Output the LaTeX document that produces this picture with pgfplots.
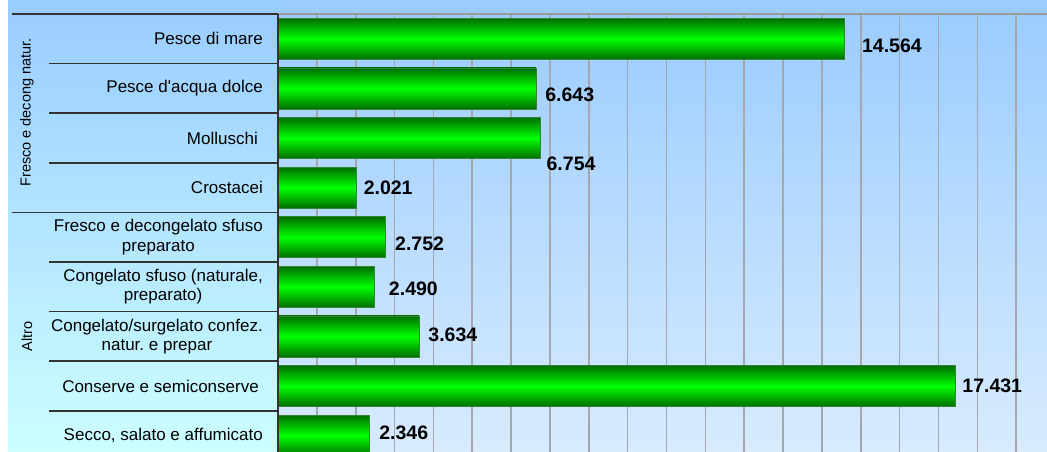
\documentclass[border=0pt]{standalone}
\usepackage{pgfplots}
\pgfplotsset{compat=1.18}
\usepackage{fontspec}
\setmainfont{Liberation Sans}
\frenchspacing
\definecolor{bgtop}{HTML}{99CCFF}
\definecolor{bgbot}{HTML}{D8EBFF}
\definecolor{lpbot}{HTML}{CCFFFF}
\definecolor{bardark}{HTML}{006E00}
\definecolor{barlight}{HTML}{00FF00}
\definecolor{gridc}{HTML}{A3A8AE}
\definecolor{linec}{HTML}{333333}
\definecolor{topline}{HTML}{9A9A9A}

\begin{document}
\begin{tikzpicture}[x=1pt,y=1pt]
\useasboundingbox (0,-452) rectangle (1047,0);
\fill[white] (0,-452) rectangle (1047,0);
\shade[top color=bgtop, bottom color=bgbot] (8,-452) rectangle (1047,0);
\shade[top color=bgtop, bottom color=lpbot] (8,-452) rectangle (278,0);
\begin{axis}[
  at={(278pt,-14pt)}, anchor=north west,
  scale only axis, width=769pt, height=438pt,
  xmin=0, xmax=19.794,
  ymin=-0.5, ymax=8.3306, y dir=reverse,
  axis line style={draw=none},
  xtick={1,...,19}, xticklabels={}, major tick length=0pt,
  xmajorgrids, grid style={gridc, line width=1.6pt},
  ytick={0,...,8},
  yticklabels={Pesce di mare, Pesce d\textquotesingle acqua dolce, Molluschi\hspace{5pt}, Crostacei, {Fresco e decongelato sfuso\\preparato}, {Congelato sfuso (naturale,\\preparato)}, {Congelato/surgelato confez.\\natur. e prepar}, Conserve e semiconserve\hspace{4pt}, {Secco, salato e affumicato}},
  yticklabel style={align=center, font=\fontsize{17}{19.5}\selectfont, inner sep=0pt, xshift=-15pt},
  xbar, bar width=41pt, bar shift=0pt,
  nodes near coords, point meta=explicit symbolic,
  every node near coord/.append style={anchor=west, inner sep=0pt, font=\fontsize{19.5}{20}\selectfont\bfseries},
  barstyle/.style={draw=green!40!black!80, line width=0.5pt, top color=bardark, bottom color=bardark, middle color=barlight},
]
\addplot[barstyle, every node near coord/.append style={xshift=18pt, yshift=-7pt}] coordinates {(14.564,0) [14.564]};
\addplot[barstyle, every node near coord/.append style={xshift=9pt, yshift=-6pt}] coordinates {(6.643,1) [6.643]};
\addplot[barstyle, every node near coord/.append style={xshift=6pt, yshift=-26pt}] coordinates {(6.754,2) [6.754]};
\addplot[barstyle, every node near coord/.append style={xshift=7pt, yshift=0pt}] coordinates {(2.021,3) [2.021]};
\addplot[barstyle, every node near coord/.append style={xshift=10pt, yshift=-7pt}] coordinates {(2.752,4) [2.752]};
\addplot[barstyle, every node near coord/.append style={xshift=14pt, yshift=-2pt}] coordinates {(2.490,5) [2.490]};
\addplot[barstyle, every node near coord/.append style={xshift=9pt, yshift=1.7pt}] coordinates {(3.634,6) [3.634]};
\addplot[barstyle, every node near coord/.append style={xshift=7pt, yshift=0pt}] coordinates {(17.431,7) [17.431]};
\addplot[barstyle, every node near coord/.append style={xshift=10pt, yshift=3pt}] coordinates {(2.346,8) [2.346]};
\end{axis}
\draw[linec, line width=1.5pt] (12,-14) -- (278,-14);
\draw[topline, line width=1.5pt] (278,-14) -- (1047,-14);
\draw[linec, line width=1.5pt] (12,-212.4) -- (278,-212.4);
\foreach \yy in {63.6,113.2,162.8,262,311.6,361.2,410.8} \draw[linec, line width=1.5pt] (49,-\yy) -- (278,-\yy);
\draw[linec, line width=1.8pt] (278,-14) -- (278,-452);
\node[rotate=90, font=\fontsize{14.5}{16}\selectfont] at (27,-112.5) {Fresco e decong natur.};
\node[rotate=90, font=\fontsize{14.5}{16}\selectfont] at (27,-336.7) {Altro};
\end{tikzpicture}
\end{document}
